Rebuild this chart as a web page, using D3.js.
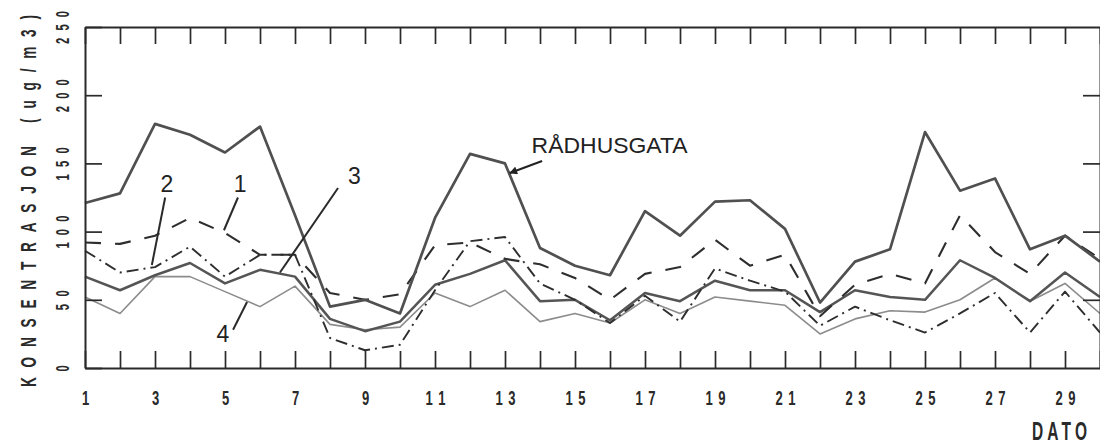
<!DOCTYPE html>
<html>
<head>
<meta charset="utf-8">
<script src="https://cdn.jsdelivr.net/npm/d3@7/dist/d3.min.js"></script>
<style>
  html, body { margin: 0; padding: 0; background: #fff; }
  svg { display: block; }
</style>
</head>
<body>
<svg id="chart" width="1100" height="445"></svg>
<script>
// Daily concentrations (ug/m3), days 1–30
const days = d3.range(1, 31);
const radhusgata = [121,128,179,171,158,177,112,45,50,40,110,157,150,88,75,68,115,97,122,123,102,48,78,87,173,130,139,87,97,78];
const stasjon1   = [92,91,97,110,99,83,83,55,50,54,90,92,80,76,66,50,69,74,94,75,83,38,61,69,62,112,85,69,97,80];
const stasjon2   = [86,70,74,89,67,83,83,22,13,17,57,93,96,62,50,33,53,34,73,64,56,31,45,35,26,40,55,26,56,26];
const stasjon3   = [67,57,68,77,62,72,67,36,27,34,61,69,79,49,50,35,55,49,64,57,57,41,57,52,50,79,66,49,70,52];
const stasjon4   = [52,40,67,67,56,45,60,32,28,30,55,45,57,34,40,33,50,40,52,49,46,25,36,42,41,50,66,49,62,40];

const yTicks = [0, 50, 100, 150, 200, 250];
const yTitle = "KONSENTRASJON (ug/m3)";
const xTitle = "DATO";

const svg = d3.select("#chart");
const plotLeft = 85, plotRight = 1100, plotTop = 27, plotBottom = 368;

const x = d3.scaleLinear().domain([1, 30]).range([plotLeft, plotRight]);
const y = d3.scaleLinear().domain([0, 250]).range([plotBottom, plotTop]);

const ink = "#2a2a2a";
const narrow = 0.62;
const font = "'Liberation Sans', Arial, sans-serif";

// Series lines
const series = [
  { values: stasjon4,   stroke: "#8c8c8c", width: 1.6, dash: null },
  { values: stasjon3,   stroke: "#555",    width: 2.5, dash: null },
  { values: stasjon2,   stroke: "#2e2e2e", width: 1.9, dash: "12,5,2,5" },
  { values: stasjon1,   stroke: "#2e2e2e", width: 2.1, dash: "16,14" },
  { values: radhusgata, stroke: "#505050", width: 2.7, dash: null }
];

const line = d3.line().x((d, i) => x(days[i])).y(d => y(d));

svg.append("g").selectAll("path").data(series).join("path")
  .attr("d", s => line(s.values))
  .attr("fill", "none")
  .attr("stroke", s => s.stroke)
  .attr("stroke-width", s => s.width)
  .attr("stroke-dasharray", s => s.dash)
  .attr("stroke-linejoin", "round");

// Frame with inward ticks
const axisStyle = g => {
  g.selectAll("path.domain").attr("stroke", ink).attr("stroke-width", 2);
  g.selectAll(".tick line").attr("stroke", ink).attr("stroke-width", 1.7);
};

const gBottom = svg.append("g").attr("transform", `translate(0,${plotBottom})`)
  .call(d3.axisBottom(x).tickValues(days).tickSize(-17).tickSizeOuter(0)
    .tickFormat(d => d % 2 === 1 ? String(d) : ""))
  .call(axisStyle);

svg.append("g").attr("transform", `translate(0,${plotTop})`)
  .call(d3.axisTop(x).tickValues(days).tickSize(-17).tickSizeOuter(0).tickFormat(""))
  .call(axisStyle);

const gLeft = svg.append("g").attr("transform", `translate(${plotLeft},0)`)
  .call(d3.axisLeft(y).tickValues(yTicks).tickSize(-17).tickSizeOuter(0))
  .call(axisStyle);

svg.append("g").attr("transform", `translate(${plotRight},0)`)
  .call(d3.axisRight(y).tickValues(yTicks.slice(1, -1)).tickSize(-17).tickSizeOuter(0).tickFormat(""))
  .call(axisStyle);

// Condensed, letter-spaced plotter lettering
gBottom.selectAll(".tick text").each(function(d) {
  const t = d3.select(this);
  const s = t.text();
  t.attr("y", null).attr("dy", null)
    .attr("transform", `translate(0,${405 - plotBottom}) scale(${narrow},1)`)
    .attr("text-anchor", "middle")
    .attr("font-family", font).attr("font-size", 21).attr("font-weight", "bold").attr("fill", ink);
  if (s.length > 1) t.attr("textLength", 20 / narrow).attr("lengthAdjust", "spacing");
});

gLeft.selectAll(".tick text").each(function(d) {
  const t = d3.select(this);
  const s = t.text();
  t.attr("x", null).attr("dy", null)
    .attr("transform", `translate(${62 - plotLeft},0) rotate(-90) scale(${narrow},1)`)
    .attr("text-anchor", "middle")
    .attr("dominant-baseline", "central")
    .attr("font-family", font).attr("font-size", 18).attr("font-weight", "bold").attr("fill", ink);
  if (s.length > 1) t.attr("textLength", (s.length === 2 ? 20 : 33) / narrow).attr("lengthAdjust", "spacing");
});

svg.append("text")
  .attr("transform", `translate(28,201) rotate(-90) scale(${narrow},1)`)
  .attr("text-anchor", "middle")
  .attr("dominant-baseline", "central")
  .attr("font-family", font).attr("font-size", 22).attr("font-weight", "bold").attr("fill", ink)
  .attr("textLength", 372 / narrow).attr("lengthAdjust", "spacing")
  .text(yTitle);

svg.append("text")
  .attr("transform", `translate(1032,440) scale(${narrow},1)`)
  .attr("font-family", font).attr("font-size", 25).attr("font-weight", "bold").attr("fill", ink)
  .attr("textLength", 55 / narrow).attr("lengthAdjust", "spacing")
  .text(xTitle);

// Station labels with leader lines (positions in data units)
const labels = [
  { text: "2", at: [3.34, 129], from: [3.29, 125], to: [2.91, 75.5] },
  { text: "1", at: [5.43, 129], from: [5.37, 125], to: [4.97, 101] },
  { text: "3", at: [8.7, 135],  from: [8.23, 132], to: [6.57, 70] },
  { text: "4", at: [4.94, 19],  from: [5.23, 28],  to: [5.63, 48.4] }
];

const gAnn = svg.append("g");
gAnn.selectAll("line").data(labels).join("line")
  .attr("x1", d => x(d.from[0])).attr("y1", d => y(d.from[1]))
  .attr("x2", d => x(d.to[0])).attr("y2", d => y(d.to[1]))
  .attr("stroke", "#2a2a2a").attr("stroke-width", 2);
gAnn.selectAll("text").data(labels).join("text")
  .attr("x", d => x(d.at[0])).attr("y", d => y(d.at[1]))
  .attr("text-anchor", "middle")
  .attr("font-family", font).attr("font-size", 23).attr("fill", "#222")
  .text(d => d.text);

// Street label with arrow onto its curve
svg.append("defs").append("marker")
  .attr("id", "head").attr("viewBox", "0 0 10 10")
  .attr("refX", 9).attr("refY", 5)
  .attr("markerWidth", 5).attr("markerHeight", 4)
  .attr("orient", "auto")
  .append("path").attr("d", "M0,0L10,5L0,10Z").attr("fill", "#222");

svg.append("line")
  .attr("x1", x(14.06)).attr("y1", y(151.8))
  .attr("x2", x(13.14)).attr("y2", y(143))
  .attr("stroke", "#222").attr("stroke-width", 2)
  .attr("marker-end", "url(#head)");

svg.append("text")
  .attr("x", x(13.76)).attr("y", y(157.6))
  .attr("font-family", font).attr("font-size", 22).attr("fill", "#222")
  .attr("textLength", 156).attr("lengthAdjust", "spacingAndGlyphs")
  .text("RÅDHUSGATA");
</script>
</body>
</html>
